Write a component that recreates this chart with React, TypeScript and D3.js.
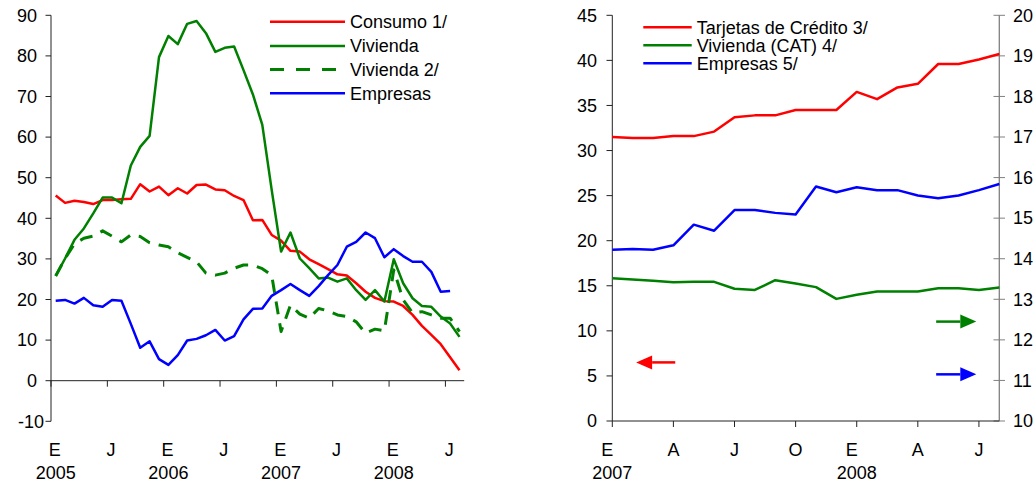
import React from "react";
import * as d3 from "d3";

// ---------- Left panel data (monthly, Jan 2005 - Aug 2008) ----------
const leftMonthLabels = ["E", "J", "E", "J", "E", "J", "E", "J"];
const leftMonthLabelIdx = [0, 6, 12, 18, 24, 30, 36, 42];
const leftYearLabels = ["2005", "2006", "2007", "2008"];
const leftYearIdx = [0, 12, 24, 36];
const leftTicks = [-10, 0, 10, 20, 30, 40, 50, 60, 70, 80, 90];

const consumo = [45.6, 43.8, 44.3, 44.0, 43.5, 44.5, 44.5, 44.7, 44.8, 48.4,
  46.6, 47.8, 45.7, 47.4, 46.1, 48.2, 48.3, 47.1, 46.9, 45.5,
  44.5, 39.5, 39.6, 35.9, 34.5, 32.0, 31.8, 29.9, 28.7, 27.5,
  26.2, 25.9, 24.0, 21.9, 20.4, 19.6, 19.5, 18.4, 16.2, 13.5,
  11.3, 9.0, 5.8, 2.6];
const vivienda = [25.8, 30.1, 34.7, 37.5, 41.2, 45.1, 45.1, 43.7, 53.0, 57.6,
  60.3, 79.7, 84.9, 82.9, 87.9, 88.6, 85.6, 81.0, 82.0, 82.3,
  76.5, 70.5, 63.0, 47.0, 31.8, 36.5, 30.1, 27.7, 25.2, 25.4,
  24.4, 25.2, 22.3, 19.9, 22.3, 19.5, 29.9, 24.0, 20.3, 18.4,
  18.2, 15.8, 14.1, 10.8];
const vivienda2 = [25.8, 30.1, 33.7, 35.1, 35.6, 36.9, 35.6, 34.2, 35.9, 35.5,
  34.0, 33.4, 33.0, 31.5, 30.4, 29.3, 26.5, 26.0, 26.5, 27.7,
  28.5, 28.5, 27.6, 26.0, 12.1, 18.6, 16.4, 15.4, 17.8, 17.2,
  16.2, 15.8, 14.5, 11.7, 12.7, 12.3, 27.3, 19.9, 16.7, 17.0,
  16.2, 15.4, 15.4, 12.1];
const empresas = [19.7, 19.9, 19.0, 20.4, 18.6, 18.2, 19.9, 19.7, 14.0, 8.1,
  9.7, 5.3, 3.9, 6.3, 9.9, 10.3, 11.2, 12.5, 9.9, 11.0,
  15.1, 17.7, 17.8, 20.9, 22.3, 23.8, 22.3, 20.9, 23.3, 26.0,
  28.5, 33.0, 34.2, 36.5, 35.1, 30.4, 32.4, 30.7, 29.3, 29.3,
  26.8, 21.9, 22.1];

// ---------- Right panel data (monthly, Jan 2007 - Aug 2008) ----------
const rightMonthLabels = ["E", "A", "J", "O", "E", "A", "J"];
const rightMonthLabelIdx = [0, 3, 6, 9, 12, 15, 18];
const rightYearLabels = ["2007", "2008"];
const rightYearIdx = [0, 12];
const rightLeftTicks = [0, 5, 10, 15, 20, 25, 30, 35, 40, 45];
const rightRightTicks = [10, 11, 12, 13, 14, 15, 16, 17, 18, 19, 20];

const tarjetas = [31.5, 31.4, 31.4, 31.6, 31.6, 32.1, 33.7, 33.9, 33.9, 34.5,
  34.5, 34.5, 36.5, 35.7, 37.0, 37.4, 39.6, 39.6, 40.1, 40.7];
const viviendaCAT = [13.52, 13.49, 13.46, 13.42, 13.43, 13.43, 13.26, 13.23, 13.47, 13.39,
  13.30, 13.01, 13.11, 13.19, 13.19, 13.19, 13.27, 13.27, 13.23, 13.29];
const empresas5 = [14.22, 14.24, 14.22, 14.33, 14.84, 14.69, 15.20, 15.20, 15.13, 15.09,
  15.78, 15.64, 15.76, 15.69, 15.69, 15.56, 15.49, 15.56, 15.69, 15.84];

const RED = "#FF0000";
const GREEN = "#008000";
const BLUE = "#0000FF";
const FONT = "'Liberation Sans', Arial, sans-serif";
const FS = 18;

export default function App() {
  // Left panel scales
  const lx = d3.scaleLinear().domain([0, 44]).range([51, 464.2]);
  const ly = d3.scaleLinear().domain([-10, 90]).range([421.3, 15.3]);
  const lline = d3
    .line<number | null>()
    .defined((d) => d != null)
    .x((_, i) => lx(i + 0.5))
    .y((d) => ly(d as number));

  // Right panel scales
  const rx = d3.scaleLinear().domain([0, 19]).range([612.3, 999.3]);
  const ryL = d3.scaleLinear().domain([0, 45]).range([421, 15.3]);
  const ryR = d3.scaleLinear().domain([10, 20]).range([421, 15.3]);
  const rlineL = d3.line<number>().x((_, i) => rx(i)).y((d) => ryL(d));
  const rlineR = d3.line<number>().x((_, i) => rx(i)).y((d) => ryR(d));

  const leftSeries = [
    { name: "Consumo 1/", data: consumo, color: RED, dash: null as string | null, w: 2.5 },
    { name: "Vivienda", data: vivienda, color: GREEN, dash: null, w: 2.5 },
    { name: "Vivienda 2/", data: vivienda2, color: GREEN, dash: "13,9", w: 3 },
    { name: "Empresas", data: empresas, color: BLUE, dash: null, w: 2.5 },
  ];
  const leftLegendY = [21.7, 46, 69.5, 93.3];

  const rightLegend = [
    { name: "Tarjetas de Crédito 3/", color: RED },
    { name: "Vivienda (CAT) 4/", color: GREEN },
    { name: "Empresas 5/", color: BLUE },
  ];
  const rightLegendY = [27.3, 45.2, 63.3];

  const arrow = (x1: number, x2: number, y: number, color: string) => {
    // arrow from x1 (tail) to x2 (tip)
    const dir = x2 > x1 ? 1 : -1;
    const head = 16;
    const hh = 7;
    return (
      <g>
        <line x1={x1} y1={y} x2={x2 - dir * head} y2={y} stroke={color} strokeWidth={2.5} />
        <path
          d={`M${x2},${y} L${x2 - dir * head},${y - hh} L${x2 - dir * head},${y + hh} Z`}
          fill={color}
        />
      </g>
    );
  };

  return (
    <svg
      width={1034}
      height={483}
      style={{ position: "absolute", left: 0, top: 0, background: "#fff" }}
      fontFamily={FONT}
      fontSize={FS}
    >
      <rect x={0} y={0} width={1034} height={483} fill="#fff" />

      {/* ===== LEFT PANEL ===== */}
      <g>
        {/* y axis */}
        <line x1={51} y1={ly(90)} x2={51} y2={ly(-10)} stroke="#222" strokeWidth={1} />
        {leftTicks.map((t) => (
          <g key={t}>
            <line x1={45.5} x2={51} y1={ly(t)} y2={ly(t)} stroke="#222" />
            <text x={t < 0 ? 44 : 37} y={ly(t) + 6.3} textAnchor="end" fill="#000">
              {t}
            </text>
          </g>
        ))}
        {/* x axis at 0 */}
        <line x1={51} x2={464.2} y1={ly(0)} y2={ly(0)} stroke="#222" />
        {leftMonthLabelIdx.map((m) => (
          <line key={m} x1={lx(m)} x2={lx(m)} y1={ly(0)} y2={ly(0) + 6} stroke="#222" />
        ))}
        {leftMonthLabels.map((l, k) => (
          <text key={k} x={lx(leftMonthLabelIdx[k] + 0.4)} y={455.5} textAnchor="middle">
            {l}
          </text>
        ))}
        {leftYearLabels.map((l, k) => (
          <text key={k} x={lx(leftYearIdx[k] + 0.5)} y={479} textAnchor="middle">
            {l}
          </text>
        ))}
        {/* series */}
        {leftSeries.map((s) => (
          <path
            key={s.name}
            d={lline(s.data) || ""}
            fill="none"
            stroke={s.color}
            strokeWidth={s.w}
            strokeDasharray={s.dash || undefined}
            strokeLinejoin="round"
          />
        ))}
        {/* legend */}
        {leftSeries.map((s, k) => (
          <g key={s.name}>
            <line
              x1={270}
              x2={345}
              y1={leftLegendY[k]}
              y2={leftLegendY[k]}
              stroke={s.color}
              strokeWidth={s.w}
              strokeDasharray={s.dash ? "14,12" : undefined}
            />
            <text x={350} y={leftLegendY[k] + 6.3}>
              {s.name}
            </text>
          </g>
        ))}
      </g>

      {/* ===== RIGHT PANEL ===== */}
      <g>
        {/* left y axis */}
        <line x1={612.3} x2={612.3} y1={ryL(45)} y2={ryL(0)} stroke="#222" />
        {rightLeftTicks.map((t) => (
          <g key={t}>
            <line x1={606.5} x2={612.3} y1={ryL(t)} y2={ryL(t)} stroke="#222" />
            <text x={597} y={ryL(t) + 6.3} textAnchor="end">
              {t}
            </text>
          </g>
        ))}
        {/* right y axis */}
        <line x1={999.3} x2={999.3} y1={ryR(20)} y2={ryR(10)} stroke="#808080" strokeWidth={1.3} />
        {rightRightTicks.map((t) => (
          <g key={t}>
            <line x1={993.5} x2={1005} y1={ryR(t)} y2={ryR(t)} stroke="#808080" />
            <text x={1013} y={ryR(t) + 6.3} textAnchor="start">
              {t}
            </text>
          </g>
        ))}
        {/* x axis */}
        <line x1={612.3} x2={999.3} y1={ryL(0)} y2={ryL(0)} stroke="#222" />
        {rightMonthLabelIdx.map((m) => (
          <line key={m} x1={rx(m)} x2={rx(m)} y1={ryL(0)} y2={ryL(0) + 6} stroke="#222" />
        ))}
        {rightMonthLabels.map((l, k) => (
          <text
            key={k}
            x={rx(rightMonthLabelIdx[k]) - (l === "E" ? 5 : 0)}
            y={455.5}
            textAnchor="middle"
          >
            {l}
          </text>
        ))}
        {rightYearLabels.map((l, k) => (
          <text key={k} x={rx(rightYearIdx[k])} y={479} textAnchor="middle">
            {l}
          </text>
        ))}
        {/* series */}
        <path d={rlineL(tarjetas) || ""} fill="none" stroke={RED} strokeWidth={2.5} strokeLinejoin="round" />
        <path d={rlineR(viviendaCAT) || ""} fill="none" stroke={GREEN} strokeWidth={2.5} strokeLinejoin="round" />
        <path d={rlineR(empresas5) || ""} fill="none" stroke={BLUE} strokeWidth={2.5} strokeLinejoin="round" />
        {/* legend */}
        {rightLegend.map((s, k) => (
          <g key={s.name}>
            <line x1={643.3} x2={691.7} y1={rightLegendY[k]} y2={rightLegendY[k]} stroke={s.color} strokeWidth={2.5} />
            <text x={696.7} y={rightLegendY[k] + 6.3}>
              {s.name}
            </text>
          </g>
        ))}
        {/* axis indicator arrows */}
        {arrow(rx(3.09), rx(1.17), ryL(6.5), RED)}
        {arrow(rx(15.9), rx(17.87), ryR(12.45), GREEN)}
        {arrow(rx(15.9), rx(17.87), ryR(11.15), BLUE)}
      </g>
    </svg>
  );
}
